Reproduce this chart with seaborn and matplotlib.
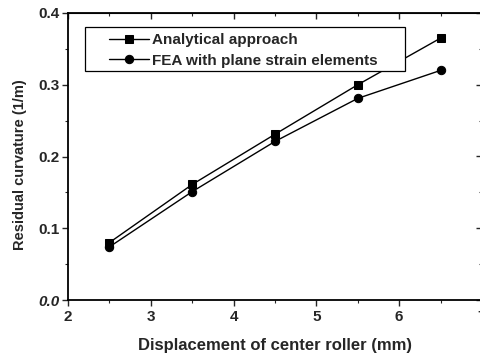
import matplotlib
matplotlib.use("Agg")
import matplotlib.pyplot as plt
import seaborn as sns
import pandas as pd
from matplotlib.patches import Rectangle
from matplotlib.ticker import MultipleLocator

sns.set_style("ticks")
plt.rcParams["font.family"] = ["Liberation Sans", "DejaVu Sans"]
plt.rcParams["font.weight"] = "bold"

# Residual curvature vs. centre-roller displacement
displacement = [2.5, 3.5, 4.5, 5.5, 6.5]
analytical = [0.080, 0.161, 0.231, 0.300, 0.365]
fea_plane_strain = [0.074, 0.151, 0.221, 0.281, 0.320]
series_names = ["Analytical approach", "FEA with plane strain elements"]
x_ticks = [2, 3, 4, 5, 6, 7]
y_ticks = [0.0, 0.1, 0.2, 0.3, 0.4]
y_tick_labels = ["0.0", "0.1", "0.2", "0.3", "0.4"]

df = pd.DataFrame({
    "x": displacement * 2,
    "y": analytical + fea_plane_strain,
    "series": [series_names[0]] * len(displacement) + [series_names[1]] * len(displacement),
})

fig = plt.figure(figsize=(4.81, 3.57), dpi=100)
ax = fig.add_axes([68 / 481, 57 / 357, 1.0 - 68 / 481 + 0.002, (300 - 13) / 357])

sns.lineplot(
    data=df, x="x", y="y", hue="series", style="series",
    palette=["black", "black"], markers={series_names[0]: "s", series_names[1]: "o"},
    dashes=False, markersize=6, linewidth=1.0, markeredgecolor="black", ax=ax,
)

ax.set_xlim(2, 7)
ax.set_ylim(0.0, 0.4)
ax.set_xticks(x_ticks, [str(v) for v in x_ticks])
ax.set_yticks(y_ticks, y_tick_labels)
ax.xaxis.set_minor_locator(MultipleLocator(0.5))
ax.yaxis.set_minor_locator(MultipleLocator(0.05))
ax.tick_params(which="major", direction="out", length=4, width=1.0, labelsize=11, pad=2)
ax.tick_params(axis="x", which="major", pad=3)
ax.tick_params(which="minor", direction="out", length=2.5, width=0.8)
for lbl in ax.get_xticklabels() + ax.get_yticklabels():
    lbl.set_fontweight("bold")
ax.get_yticklabels()[0].set_style("italic")

for side in ["left", "bottom", "top", "right"]:
    ax.spines[side].set_visible(True)
    ax.spines[side].set_linewidth(1.3)
    ax.spines[side].set_color("black")

# mirrored inward ticks on top and right
top = ax.secondary_xaxis("top")
top.xaxis.set_major_locator(MultipleLocator(1))
top.xaxis.set_minor_locator(MultipleLocator(0.5))
top.tick_params(which="major", direction="in", length=4, width=1.0, labeltop=False)
top.tick_params(which="minor", direction="in", length=2.5, width=0.8)
right = ax.secondary_yaxis("right")
right.yaxis.set_major_locator(MultipleLocator(0.1))
right.yaxis.set_minor_locator(MultipleLocator(0.05))
right.tick_params(which="major", direction="in", length=4, width=1.0, labelright=False)
right.tick_params(which="minor", direction="in", length=2.5, width=0.8)

ax.set_xlabel("Displacement of center roller (mm)", fontsize=12, fontweight="bold", labelpad=10)
ax.set_ylabel("Residual curvature (1/m)", fontsize=10.5, fontweight="bold")
ax.yaxis.set_label_coords(-0.098, 0.47)

# legend entries without their own frame; a separate white box gives the wide side padding
leg = ax.legend(
    loc="upper left", bbox_to_anchor=(0.10, 0.93), frameon=False,
    fontsize=11, handlelength=2.6, borderpad=0.0, labelspacing=0.42,
    handletextpad=0.2, borderaxespad=0.0,
)
leg.set_zorder(6)
for t in leg.get_texts():
    t.set_fontweight("bold")
ax.add_patch(Rectangle((0.041, 0.797), 0.773, 0.154, transform=ax.transAxes,
                       facecolor="white", edgecolor="black", linewidth=0.9, zorder=5))

fig.savefig("out.png", dpi=100)
